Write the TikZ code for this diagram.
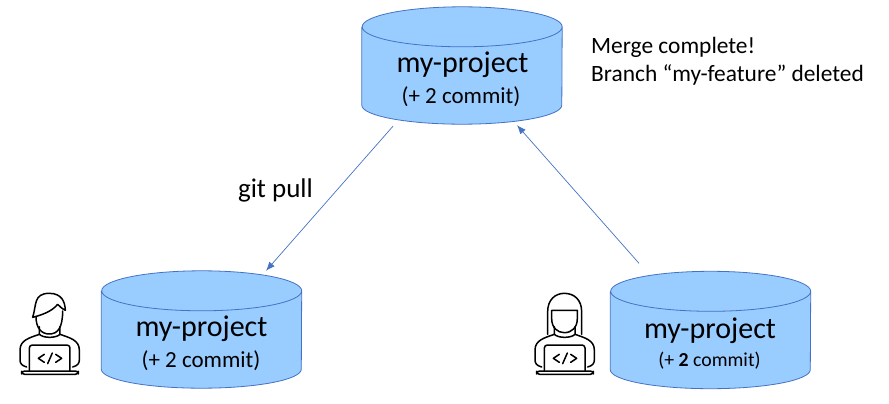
\documentclass[tikz,border=0pt]{standalone}
\usepackage{fontspec}
\setmainfont{Carlito}
\usetikzlibrary{arrows.meta,positioning}
\definecolor{repofill}{HTML}{99CCFF}
\definecolor{repoline}{HTML}{4472C4}
\tikzset{%
	repo/.style      = {rectangle, minimum width=200pt, minimum height=118pt, inner sep=0pt},
	repoedge/.style  = {draw=repoline, fill=repofill, line width=0.8pt},
	arrow/.style     = {draw=repoline, line width=0.7pt, -{Latex[length=9pt,width=7pt]}},
	bigtext/.style   = {inner sep=0pt, font=\fontsize{30}{36}\selectfont},
	smalltext/.style = {inner sep=0pt, font=\fontsize{23}{28}\selectfont},
	note/.style      = {inner sep=0pt, font=\fontsize{23.4}{28}\selectfont, align=left, anchor=west},
	coderline/.style = {line width=1.5pt, line cap=round, line join=round},
	coderbody/.pic   = {
		\draw[coderline] (50,246) .. controls (36,242) and (30,236) .. (30,225) -- (30,195) .. controls (30,165) and (60,158) .. (88,148) -- (88,125);
		\draw[coderline] (188,246) .. controls (202,242) and (208,236) .. (208,225) -- (208,195) .. controls (208,165) and (178,158) .. (150,148) -- (150,125);
		\draw[coderline] (88,148) .. controls (100,160) and (138,160) .. (150,148);
		\draw[coderline,rounded corners=3pt] (58,258) -- (58,180) -- (180,180) -- (180,258);
		\draw[coderline,rounded corners=3pt] (35,258) rectangle (205,268);
		\draw[coderline] (103,208) -- (85,220) -- (103,232);
		\draw[coderline] (137,208) -- (155,220) -- (137,232);
		\draw[coderline] (113,236) -- (127,204);
	},
	malehair/.pic    = {
		\draw[coderline] (68,97) .. controls (80,60) and (70,25) .. (118,25) .. controls (155,25) and (165,50) .. (166,76) .. controls (155,70) and (150,65) .. (143,58) .. controls (125,80) and (95,90) .. (68,97);
		\draw[coderline] (78,95) .. controls (78,130) and (95,147) .. (118,147) .. controls (142,147) and (158,130) .. (158,78);
	},
	femalehair/.pic  = {
		\draw[coderline] (68,148) -- (68,80) .. controls (68,45) and (90,25) .. (118,25) .. controls (148,25) and (170,45) .. (170,80) -- (170,148);
		\draw[coderline] (80,76) -- (157,76) -- (157,100) .. controls (157,128) and (140,143) .. (118,143) .. controls (97,143) and (80,128) .. (80,100) -- cycle;
	},
}
\newcommand{\repodrum}[1]{%
	\draw[repoedge] ([yshift=-20pt]#1.north west) -- ([yshift=20pt]#1.south west)
		arc[x radius=100pt,y radius=19pt,start angle=180,end angle=360]
		-- ([yshift=-20pt]#1.north east)
		arc[x radius=100pt,y radius=20pt,start angle=0,end angle=180]
		arc[x radius=100pt,y radius=20pt,start angle=180,end angle=360];
}
\begin{document}
\begin{tikzpicture}[x=1pt,y=-1pt]
	\useasboundingbox (0,0) rectangle (889,404);
	% repositories
	\node[repo] (repotop) at (462,66) {};
	\node[repo] (repoleft) at (201.5,330) {};
	\node[repo] (reporight) at (710.5,330.5) {};
	\repodrum{repotop}
	\repodrum{repoleft}
	\repodrum{reporight}
	% labels
	\node[bigtext] (nametop) at (462.5,65) {my-project};
	\node[smalltext] (commitstop) at (461,97) {(+ 2 commit)};
	\node[bigtext] (nameleft) at (201.5,329) {my-project};
	\node[smalltext] (commitsleft) at (201,361) {(+ 2 commit)};
	\node[bigtext] (nameright) at (710,331) {my-project};
	\node[smalltext,font=\fontsize{19.8}{24}\selectfont] (commitsright) at (709.5,361) {(+ \textbf{2} commit)};
	\node[note] (mergenote) at (591,61) {Merge complete!\\Branch “my-feature” deleted};
	\node[inner sep=0pt,font=\fontsize{27}{32}\selectfont] (pulllabel) at (275.5,190) {git pull};
	% connectors
	\draw[arrow] ([xshift=-69pt,yshift=-1pt]repotop.south) -- ([xshift=64.5pt]repoleft.north);
	\draw[arrow] ([xshift=-71.5pt,yshift=8pt]reporight.north) -- ([xshift=55pt]repotop.south);
	% people
	\pic[scale=1/3] at (10,285) {coderbody};
	\pic[scale=1/3] at (10,285) {malehair};
	\pic[scale=1/3] at (525,285) {coderbody};
	\pic[scale=1/3] at (525,285) {femalehair};
\end{tikzpicture}
\end{document}
